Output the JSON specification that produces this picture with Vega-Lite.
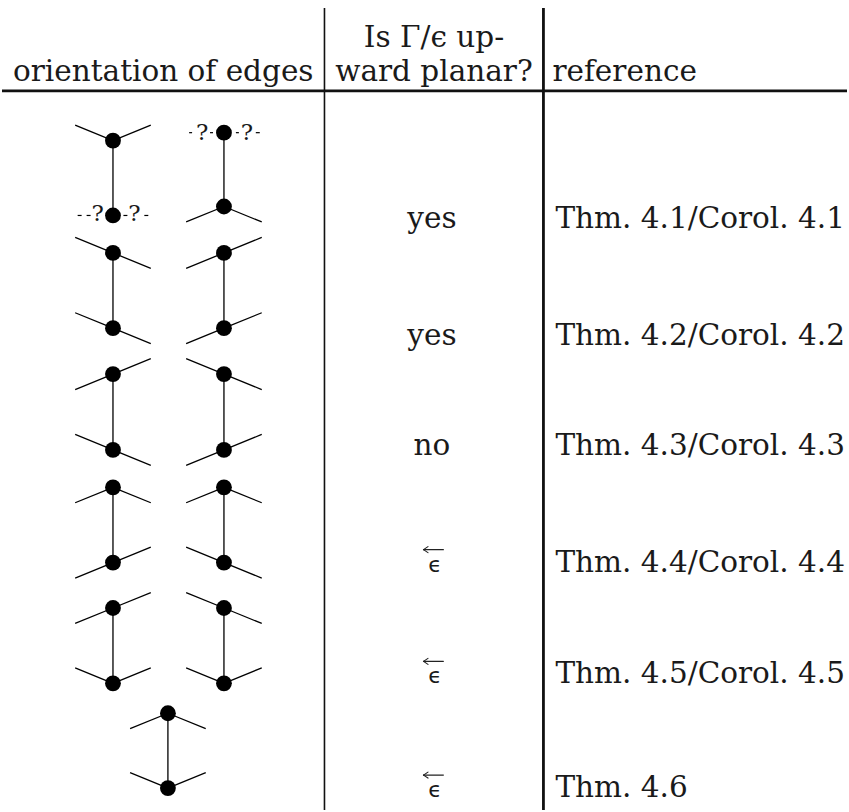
{
  "$schema": "https://vega.github.io/schema/vega-lite/v6.json",
  "width": 849,
  "height": 812,
  "padding": 0,
  "autosize": {"type": "fit", "contains": "padding"},
  "background": "white",
  "config": {"view": {"stroke": null}},
  "datasets": {
    "grid": [
      {"x": 324, "y": 8, "x2": 324, "y2": 812, "weight": "thin"},
      {"x": 544, "y": 8, "x2": 544, "y2": 812, "weight": "thick"},
      {"x": 0, "y": 91, "x2": 849, "y2": 91, "weight": "thick"}
    ],
    "edges": [
      {"x": 111.5, "y": 141, "x2": 111.5, "y2": 216},
      {"x": 111.5, "y": 141, "x2": 73.5, "y2": 125.5},
      {"x": 111.5, "y": 141, "x2": 149.5, "y2": 125.5},
      {"x": 223, "y": 133, "x2": 223, "y2": 207},
      {"x": 223, "y": 207, "x2": 185, "y2": 222.5},
      {"x": 223, "y": 207, "x2": 261, "y2": 222.5},

      {"x": 111.5, "y": 253.5, "x2": 111.5, "y2": 329},
      {"x": 111.5, "y": 253.5, "x2": 73.5, "y2": 238},
      {"x": 111.5, "y": 253.5, "x2": 149.5, "y2": 269},
      {"x": 111.5, "y": 329, "x2": 73.5, "y2": 313.5},
      {"x": 111.5, "y": 329, "x2": 149.5, "y2": 344.5},
      {"x": 223, "y": 253.5, "x2": 223, "y2": 329},
      {"x": 223, "y": 253.5, "x2": 185, "y2": 269},
      {"x": 223, "y": 253.5, "x2": 261, "y2": 238},
      {"x": 223, "y": 329, "x2": 185, "y2": 344.5},
      {"x": 223, "y": 329, "x2": 261, "y2": 313.5},

      {"x": 111.5, "y": 375, "x2": 111.5, "y2": 451},
      {"x": 111.5, "y": 375, "x2": 73.5, "y2": 390.5},
      {"x": 111.5, "y": 375, "x2": 149.5, "y2": 359.5},
      {"x": 111.5, "y": 451, "x2": 73.5, "y2": 435.5},
      {"x": 111.5, "y": 451, "x2": 149.5, "y2": 466.5},
      {"x": 223, "y": 375, "x2": 223, "y2": 451},
      {"x": 223, "y": 375, "x2": 185, "y2": 359.5},
      {"x": 223, "y": 375, "x2": 261, "y2": 390.5},
      {"x": 223, "y": 451, "x2": 261, "y2": 435.5},
      {"x": 223, "y": 451, "x2": 185, "y2": 466.5},

      {"x": 111.5, "y": 488.5, "x2": 111.5, "y2": 564},
      {"x": 111.5, "y": 488.5, "x2": 73.5, "y2": 504},
      {"x": 111.5, "y": 488.5, "x2": 149.5, "y2": 504},
      {"x": 111.5, "y": 564, "x2": 149.5, "y2": 548.5},
      {"x": 111.5, "y": 564, "x2": 73.5, "y2": 579.5},
      {"x": 223, "y": 488.5, "x2": 223, "y2": 564},
      {"x": 223, "y": 488.5, "x2": 185, "y2": 504},
      {"x": 223, "y": 488.5, "x2": 261, "y2": 504},
      {"x": 223, "y": 564, "x2": 185, "y2": 548.5},
      {"x": 223, "y": 564, "x2": 261, "y2": 579.5},

      {"x": 111.5, "y": 609.5, "x2": 111.5, "y2": 685},
      {"x": 111.5, "y": 609.5, "x2": 73.5, "y2": 625},
      {"x": 111.5, "y": 609.5, "x2": 149.5, "y2": 594},
      {"x": 111.5, "y": 685, "x2": 73.5, "y2": 669.5},
      {"x": 111.5, "y": 685, "x2": 149.5, "y2": 669.5},
      {"x": 223, "y": 609.5, "x2": 223, "y2": 685},
      {"x": 223, "y": 609.5, "x2": 185, "y2": 594},
      {"x": 223, "y": 609.5, "x2": 261, "y2": 625},
      {"x": 223, "y": 685, "x2": 185, "y2": 669.5},
      {"x": 223, "y": 685, "x2": 261, "y2": 669.5},

      {"x": 166.7, "y": 715, "x2": 166.7, "y2": 790},
      {"x": 166.7, "y": 715, "x2": 128.7, "y2": 730.5},
      {"x": 166.7, "y": 715, "x2": 204.7, "y2": 730.5},
      {"x": 166.7, "y": 790, "x2": 128.7, "y2": 774.5},
      {"x": 166.7, "y": 790, "x2": 204.7, "y2": 774.5}
    ],
    "arrows": [
      {"x": 423.5, "y": 551, "x2": 443.5, "y2": 551},
      {"x": 423.5, "y": 551, "x2": 428, "y2": 548},
      {"x": 423.5, "y": 551, "x2": 428, "y2": 554},
      {"x": 423.5, "y": 663, "x2": 443.5, "y2": 663},
      {"x": 423.5, "y": 663, "x2": 428, "y2": 660},
      {"x": 423.5, "y": 663, "x2": 428, "y2": 666},
      {"x": 423.5, "y": 777, "x2": 443.5, "y2": 777},
      {"x": 423.5, "y": 777, "x2": 428, "y2": 774},
      {"x": 423.5, "y": 777, "x2": 428, "y2": 780}
    ],
    "dashes": [
      {"x": 76, "x2": 80, "y": 216},
      {"x": 85, "x2": 89, "y": 216},
      {"x": 122, "x2": 126, "y": 216},
      {"x": 143, "x2": 147, "y": 216},
      {"x": 188, "x2": 191, "y": 133},
      {"x": 209, "x2": 212, "y": 133},
      {"x": 235, "x2": 238, "y": 133},
      {"x": 255, "x2": 259, "y": 133}
    ],
    "vertices": [
      {"x": 111.5, "y": 141}, {"x": 111.5, "y": 216}, {"x": 223, "y": 133}, {"x": 223, "y": 207},
      {"x": 111.5, "y": 253.5}, {"x": 111.5, "y": 329}, {"x": 223, "y": 253.5}, {"x": 223, "y": 329},
      {"x": 111.5, "y": 375}, {"x": 111.5, "y": 451}, {"x": 223, "y": 375}, {"x": 223, "y": 451},
      {"x": 111.5, "y": 488.5}, {"x": 111.5, "y": 564}, {"x": 223, "y": 488.5}, {"x": 223, "y": 564},
      {"x": 111.5, "y": 609.5}, {"x": 111.5, "y": 685}, {"x": 223, "y": 609.5}, {"x": 223, "y": 685},
      {"x": 166.7, "y": 715}, {"x": 166.7, "y": 790}
    ],
    "texts": [
      {"role": "center", "text": "orientation of edges", "x": 162, "y": 81},
      {"role": "center", "text": "Is Γ/ϵ up-", "x": 434, "y": 47},
      {"role": "center", "text": "ward planar?", "x": 434, "y": 81},
      {"role": "left", "text": "reference", "x": 553, "y": 81},
      {"role": "center", "text": "yes", "x": 432, "y": 229},
      {"role": "center", "text": "yes", "x": 432, "y": 346},
      {"role": "center", "text": "no", "x": 432, "y": 456},
      {"role": "eps", "text": "ϵ", "x": 435, "y": 573},
      {"role": "eps", "text": "ϵ", "x": 435, "y": 685},
      {"role": "eps", "text": "ϵ", "x": 435, "y": 799},
      {"role": "left", "text": "Thm. 4.1/Corol. 4.1", "x": 556, "y": 229},
      {"role": "left", "text": "Thm. 4.2/Corol. 4.2", "x": 556, "y": 346},
      {"role": "left", "text": "Thm. 4.3/Corol. 4.3", "x": 556, "y": 456},
      {"role": "left", "text": "Thm. 4.4/Corol. 4.4", "x": 556, "y": 573},
      {"role": "left", "text": "Thm. 4.5/Corol. 4.5", "x": 556, "y": 685},
      {"role": "left", "text": "Thm. 4.6", "x": 556, "y": 799},
      {"role": "q", "text": "?", "x": 96, "y": 222},
      {"role": "q", "text": "?", "x": 133, "y": 222},
      {"role": "q", "text": "?", "x": 201, "y": 140},
      {"role": "q", "text": "?", "x": 246, "y": 140}
    ]
  },
  "layer": [
    {
      "data": {"name": "grid"},
      "mark": {"type": "rule", "color": "#111"},
      "encoding": {
        "x": {"field": "x", "type": "quantitative", "scale": {"domain": [0, 849], "nice": false, "zero": false}, "axis": null},
        "x2": {"field": "x2"},
        "y": {"field": "y", "type": "quantitative", "scale": {"domain": [0, 812], "nice": false, "zero": false, "reverse": true}, "axis": null},
        "y2": {"field": "y2"},
        "strokeWidth": {"field": "weight", "type": "nominal", "scale": {"domain": ["thin", "thick"], "range": [1.6, 2.8]}, "legend": null}
      }
    },
    {
      "data": {"name": "edges"},
      "mark": {"type": "rule", "color": "#000", "strokeWidth": 1.3},
      "encoding": {
        "x": {"field": "x", "type": "quantitative"},
        "x2": {"field": "x2"},
        "y": {"field": "y", "type": "quantitative"},
        "y2": {"field": "y2"}
      }
    },
    {
      "data": {"name": "arrows"},
      "mark": {"type": "rule", "color": "#222", "strokeWidth": 1.1, "strokeCap": "round"},
      "encoding": {
        "x": {"field": "x", "type": "quantitative"},
        "x2": {"field": "x2"},
        "y": {"field": "y", "type": "quantitative"},
        "y2": {"field": "y2"}
      }
    },
    {
      "data": {"name": "dashes"},
      "mark": {"type": "rule", "color": "#000", "strokeWidth": 1.2},
      "encoding": {
        "x": {"field": "x", "type": "quantitative"},
        "x2": {"field": "x2"},
        "y": {"field": "y", "type": "quantitative"}
      }
    },
    {
      "data": {"name": "vertices"},
      "mark": {"type": "point", "shape": "circle", "filled": true, "color": "#000", "opacity": 1, "size": 250},
      "encoding": {
        "x": {"field": "x", "type": "quantitative"},
        "y": {"field": "y", "type": "quantitative"}
      }
    },
    {
      "data": {"name": "texts"},
      "transform": [{"filter": "datum.role === 'center'"}],
      "mark": {"type": "text", "font": "DejaVu Serif", "fontSize": 29.5, "align": "center", "baseline": "alphabetic", "color": "#1a1a1a"},
      "encoding": {
        "x": {"field": "x", "type": "quantitative"},
        "y": {"field": "y", "type": "quantitative"},
        "text": {"field": "text"}
      }
    },
    {
      "data": {"name": "texts"},
      "transform": [{"filter": "datum.role === 'left'"}],
      "mark": {"type": "text", "font": "DejaVu Serif", "fontSize": 29.5, "align": "left", "baseline": "alphabetic", "color": "#1a1a1a"},
      "encoding": {
        "x": {"field": "x", "type": "quantitative"},
        "y": {"field": "y", "type": "quantitative"},
        "text": {"field": "text"}
      }
    },
    {
      "data": {"name": "texts"},
      "transform": [{"filter": "datum.role === 'eps'"}],
      "mark": {"type": "text", "font": "DejaVu Sans", "fontSize": 22, "align": "center", "baseline": "alphabetic", "color": "#1a1a1a"},
      "encoding": {
        "x": {"field": "x", "type": "quantitative"},
        "y": {"field": "y", "type": "quantitative"},
        "text": {"field": "text"}
      }
    },
    {
      "data": {"name": "texts"},
      "transform": [{"filter": "datum.role === 'q'"}],
      "mark": {"type": "text", "font": "DejaVu Serif", "fontSize": 23, "align": "center", "baseline": "alphabetic", "color": "#1a1a1a"},
      "encoding": {
        "x": {"field": "x", "type": "quantitative"},
        "y": {"field": "y", "type": "quantitative"},
        "text": {"field": "text"}
      }
    }
  ]
}
